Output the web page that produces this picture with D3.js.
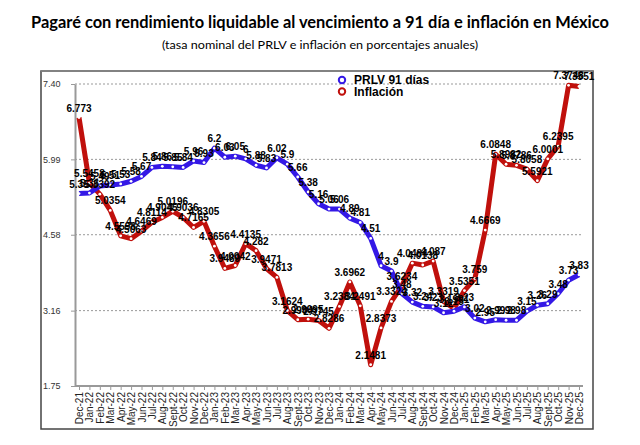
<!DOCTYPE html>
<html><head><meta charset="utf-8">
<script src="https://cdn.jsdelivr.net/npm/d3@7/dist/d3.min.js"></script>
<style>
html,body{margin:0;padding:0;background:#fff;}
svg{display:block;}
</style></head>
<body><svg id="chart" width="640" height="445"></svg>
<script>
const categories = ["Dec-21","Jan-22","Feb-22","Mar-22","Apr-22","May-22","Jun-22","Jul-22","Aug-22","Sept-22","Oct-22","Nov-22","Dec-22",
"Jan-23","Feb-23","Mar-23","Apr-23","May-23","Jun-23","Jul-23","Aug-23","Sept-23","Oct-23","Nov-23","Dec-23",
"Jan-24","Feb-24","Mar-24","Apr-24","May-24","Jun-24","Jul-24","Aug-24","Sept-24","Oct-24","Nov-24","Dec-24",
"Jan-25","Feb-25","Mar-25","Apr-25","May-25","Jun-25","Jul-25","Aug-25","Sept-25","Oct-25","Nov-25","Dec-25"];
const prlv = [5.35,5.36,5.49,5.51,5.53,5.58,5.67,5.84,5.86,5.85,5.84,5.96,5.93,
6.2,6.03,6.05,6,5.88,5.83,6.02,5.9,5.66,5.38,5.16,5.06,
5.06,4.89,4.81,4.51,4,3.9,3.48,3.32,3.24,3.23,3.12,3.15,
3.23,3.02,2.95,2.99,2.98,2.98,3.15,3.26,3.29,3.48,3.73,3.83];
const inflacion = [6.773,5.5458,5.3392,5.0354,4.5598,4.5063,4.6469,4.8114,4.9045,5.0196,4.9036,4.7165,4.8305,
4.3656,3.9489,4.0042,4.4135,4.282,3.9471,3.7813,3.1624,2.9904,2.9995,2.9745,2.8286,
3.2384,3.6962,3.2491,2.1481,2.8373,3.3324,3.6234,4.0484,4.0138,4.087,3.3319,3.1991,
3.5351,3.759,4.6669,6.0848,5.8982,5.8786,5.8058,5.5921,6.0001,6.2395,7.3748,7.3551];
const yTicks = [1.75,3.16,4.58,5.99,7.40];
const yTickLabels = ["1.75","3.16","4.58","5.99","7.40"];
const seriesNames = ["PRLV 91 días","Inflación"];
const titleText = "Pagaré con rendimiento liquidable al vencimiento a 91 día e inflación en México";
const subtitleText = "(tasa nominal del PRLV e inflación en porcentajes anuales)";

const blue = "#3418e6", red = "#c0100c";
const svg = d3.select("#chart");

// frame
svg.append("rect").attr("x",41).attr("y",71).attr("width",552).attr("height",358)
  .attr("fill","#fff").attr("stroke","#444").attr("stroke-width",1.5);
svg.append("line").attr("x1",41).attr("x2",593).attr("y1",71).attr("y2",71).attr("stroke","#888").attr("stroke-width",1.5);

// titles
svg.append("text").attr("x",320).attr("y",28).attr("text-anchor","middle")
  .attr("font-family","Lato, 'Open Sans', sans-serif").attr("font-weight","bold").attr("font-size",17)
  .attr("textLength",578).attr("lengthAdjust","spacingAndGlyphs").text(titleText);
svg.append("text").attr("x",320).attr("y",49).attr("text-anchor","middle")
  .attr("font-family","Lato, 'Open Sans', sans-serif").attr("font-size",12)
  .attr("textLength",316).attr("lengthAdjust","spacingAndGlyphs").text(subtitleText);

const x = d3.scalePoint().domain(categories).range([79,579]);
const y = d3.scaleLinear().domain([1.75,7.40]).range([386,84]);

// gridlines
svg.append("g").selectAll("line").data(yTicks).join("line")
  .attr("x1",75).attr("x2",583).attr("y1",d=>y(d)).attr("y2",d=>y(d))
  .attr("stroke","#999").attr("stroke-width",1).attr("stroke-dasharray","2,2");

// y axis
const yAxis = svg.append("g").attr("transform","translate(75,0)")
  .call(d3.axisLeft(y).tickValues(yTicks).tickFormat((d,i)=>yTickLabels[i]).tickSize(4).tickSizeOuter(0));
yAxis.select(".domain").attr("stroke","#999").attr("stroke-width",2);
yAxis.selectAll(".tick line").attr("stroke","#999");
yAxis.selectAll(".tick text").attr("x",-32).attr("text-anchor","start")
  .attr("font-family","'Liberation Sans', Arial, sans-serif").attr("font-size",9).attr("fill","#333");

// x axis
const xAxis = svg.append("g").attr("transform","translate(0,386)")
  .call(d3.axisBottom(x).tickSize(4).tickSizeOuter(0));
xAxis.select(".domain").attr("d","M75,0H583").attr("stroke","#999").attr("stroke-width",2);
xAxis.selectAll(".tick line").attr("stroke","#999");
xAxis.selectAll(".tick text")
  .attr("transform","rotate(-90)").attr("x",-6).attr("y",0).attr("dy","0.35em")
  .attr("text-anchor","end")
  .attr("font-family","'Liberation Sans', Arial, sans-serif").attr("font-size",10).attr("fill","#222");

// lines
const line = d3.line().x((d,i)=>x(categories[i])).y(d=>y(d));
const series = [{name:seriesNames[1],vals:inflacion,color:red},{name:seriesNames[0],vals:prlv,color:blue}];
series.forEach(s=>{
  svg.append("path").attr("d",line(s.vals)).attr("fill","none").attr("stroke",s.color)
    .attr("stroke-width",5).attr("stroke-linejoin","round");
  svg.append("g").selectAll("circle").data(s.vals).join("circle")
    .attr("cx",(d,i)=>x(categories[i])).attr("cy",d=>y(d)).attr("r",1.4).attr("fill","#fff");
});
// labels
series.forEach(s=>{
  svg.append("g").selectAll("text").data(s.vals).join("text")
    .attr("x",(d,i)=>x(categories[i])).attr("y",d=>y(d)-6).attr("text-anchor","middle")
    .attr("font-family","'Liberation Sans', Arial, sans-serif").attr("font-weight","bold")
    .attr("font-size",10).attr("fill","#000").text(d=>String(d));
});

// legend
const leg = svg.append("g");
[{n:seriesNames[0],c:blue,y:80},{n:seriesNames[1],c:red,y:91.5}].forEach(l=>{
  leg.append("circle").attr("cx",342).attr("cy",l.y).attr("r",3.2).attr("fill","#fff")
    .attr("stroke",l.c).attr("stroke-width",2);
  leg.append("text").attr("x",354).attr("y",l.y+4).attr("font-family","'Liberation Sans', Arial, sans-serif")
    .attr("font-weight","bold").attr("font-size",12).attr("fill","#000").text(l.n);
});
</script></body></html>
